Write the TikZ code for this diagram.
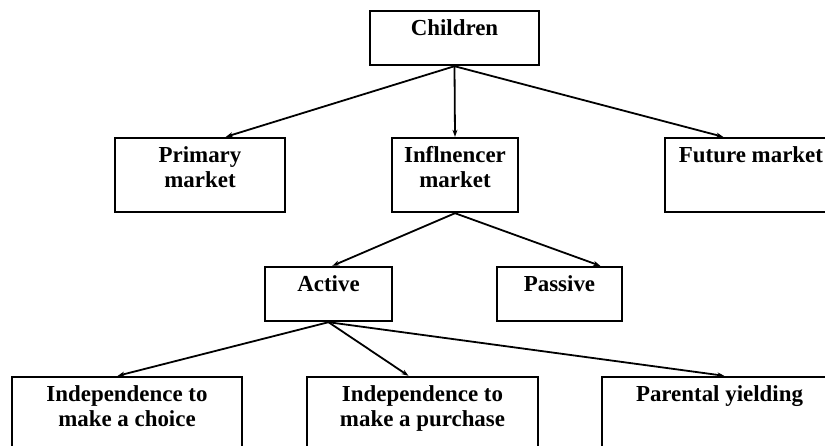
\documentclass[tikz,border=0pt]{standalone}
\usepackage{fontspec}
\setmainfont{Liberation Serif}
\usepackage{tikz}
\usetikzlibrary{arrows.meta,calc}
\newcommand{\boxtext}[3]{\parbox[c][#2][t]{#1}{\centering\rule{0pt}{25bp}#3}}
\tikzset{
  >={Stealth[length=7bp,width=5bp]},
  box/.style={draw, line width=2.4bp, inner sep=0pt, font=\fontsize{23}{25}\selectfont\bfseries},
  flow/.style={->, line width=1.8bp},
}
\begin{document}
\begin{tikzpicture}[x=1bp, y=-1bp]
  \useasboundingbox (0,0) rectangle (825,446);
  \fill[white] (0,0) rectangle (825,446);
  \clip (0,0) rectangle (825,446);
  % top level
  \node[box] (child) at (454.5,38) {\boxtext{169bp}{54bp}{Children}};
  % markets
  \node[box] (prim) at (200,175) {\boxtext{170bp}{74bp}{Primary\\market}};
  \node[box] (infl) at (455,175) {\boxtext{126bp}{74bp}{Inflnencer\\market}};
  \node[box] (fut)  at (751,175) {\boxtext{172bp}{74bp}{Future market}};
  % influence types
  \node[box] (act) at (328.5,294) {\boxtext{127bp}{54bp}{Active}};
  \node[box] (pas) at (559.5,294) {\boxtext{125bp}{54bp}{Passive}};
  % active influence
  \node[box] (choice) at (127,414)   {\boxtext{230bp}{74bp}{Independence to\\make a choice}};
  \node[box] (purch)  at (422.5,414) {\boxtext{231bp}{74bp}{Independence to\\make a purchase}};
  \node[box] (yield)  at (719.5,414) {\boxtext{235bp}{74bp}{Parental yielding}};
  \draw[flow] (child.south) -- ($(prim.north west)!0.65!(prim.north east)$);
  \draw[flow] (child.south) -- (infl.north);
  \draw[flow] (child.south) -- ($(fut.north west)!0.34!(fut.north east)$);
  \draw[flow] (infl.south) -- ($(act.north west)!0.53!(act.north east)$);
  \draw[flow] (infl.south) -- ($(pas.north west)!0.82!(pas.north east)$);
  \draw[flow] (act.south) -- ($(choice.north west)!0.46!(choice.north east)$);
  \draw[flow] (act.south) -- ($(purch.north west)!0.44!(purch.north east)$);
  \draw[flow] (act.south) -- ($(yield.north west)!0.52!(yield.north east)$);
\end{tikzpicture}
\end{document}
